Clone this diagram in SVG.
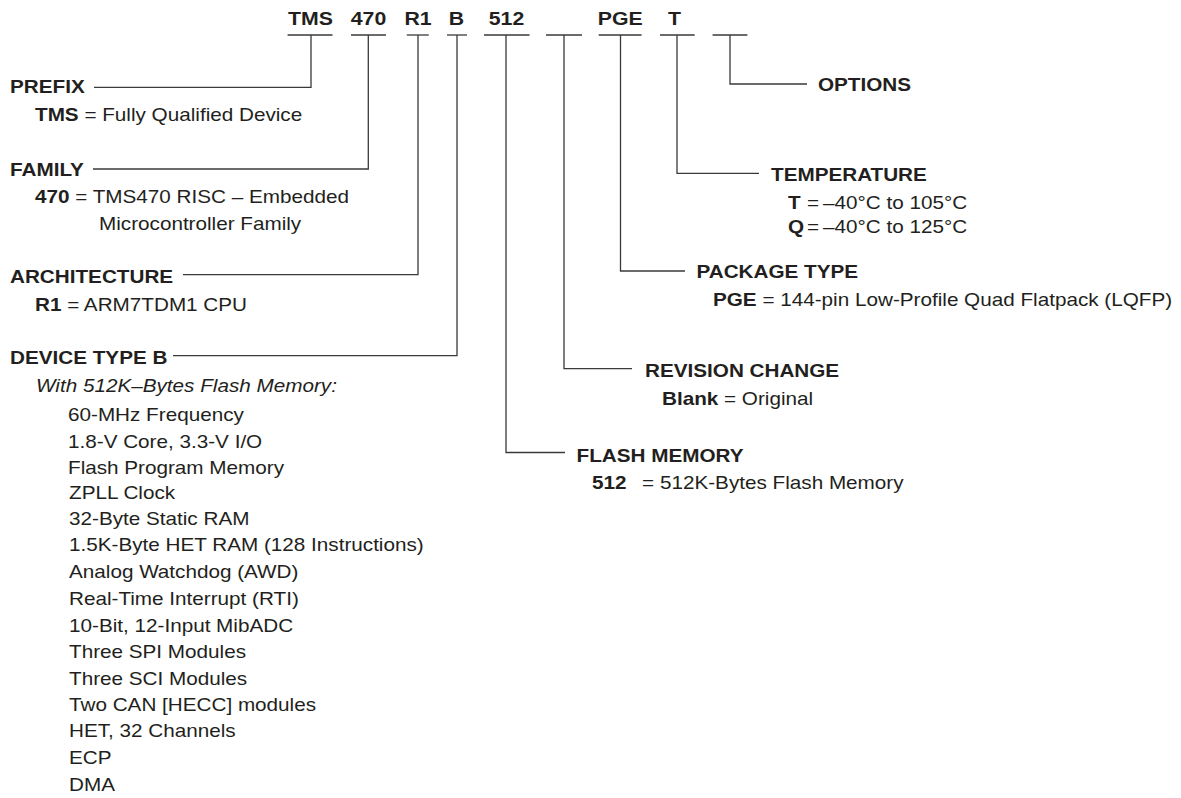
<svg xmlns="http://www.w3.org/2000/svg" width="1181" height="798" viewBox="0 0 1181 798">
<style>
text{font-family:"Liberation Sans",Arial,sans-serif;fill:#231f20;font-size:18px}
.b{font-weight:bold}
.i{font-style:italic}
.code{font-weight:bold;font-size:19px;text-anchor:middle}
#connectors path,#connectors line{stroke:#3a3a3a;stroke-width:1.3;fill:none}
</style>
<rect width="1181" height="798" fill="#fff"/>
<g id="connectors">
<line x1="287.6" y1="35" x2="332.5" y2="35"/>
<line x1="351" y1="35" x2="386" y2="35"/>
<line x1="406.8" y1="35" x2="428.8" y2="35"/>
<line x1="447" y1="35" x2="467" y2="35"/>
<line x1="484" y1="35" x2="529.5" y2="35"/>
<line x1="546" y1="35" x2="582" y2="35"/>
<line x1="598.7" y1="35" x2="641.6" y2="35"/>
<line x1="660" y1="35" x2="694.7" y2="35"/>
<line x1="712.6" y1="35" x2="747.4" y2="35"/>
<path d="M311 35V87.3H94"/>
<path d="M368.3 35V169H93"/>
<path d="M418 35V274.7H183"/>
<path d="M457 35V355.7H173"/>
<path d="M506 35V452.5H565"/>
<path d="M564 35V368.7H632"/>
<path d="M620.5 35V271H685"/>
<path d="M677 35V173.3H759"/>
<path d="M730 35V84H807"/>
</g>
<g id="code">
<text class="code" transform="translate(310.5,25) scale(1.12,1)">TMS</text>
<text class="code" transform="translate(368.5,25) scale(1.12,1)">470</text>
<text class="code" transform="translate(418,25) scale(1.12,1)">R1</text>
<text class="code" transform="translate(456.5,25) scale(1.12,1)">B</text>
<text class="code" transform="translate(506.5,25) scale(1.12,1)">512</text>
<text class="code" transform="translate(620.3,25) scale(1.12,1)">PGE</text>
<text class="code" transform="translate(674.5,25) scale(1.12,1)">T</text>
</g>
<g id="prefix">
<text class="b" transform="translate(10,92.7) scale(1.15,1)">PREFIX</text>
<text transform="translate(35,120.7) scale(1.15,1)"><tspan class="b">TMS</tspan> = Fully Qualified Device</text>
</g>
<g id="family">
<text class="b" transform="translate(10,175.7) scale(1.15,1)">FAMILY</text>
<text transform="translate(35,203.3) scale(1.15,1)"><tspan class="b">470</tspan> = TMS470 RISC – Embedded</text>
<text transform="translate(99,230) scale(1.15,1)">Microcontroller Family</text>
</g>
<g id="architecture">
<text class="b" transform="translate(10,283.3) scale(1.15,1)">ARCHITECTURE</text>
<text transform="translate(35,310.7) scale(1.15,1)"><tspan class="b">R1</tspan> = ARM7TDM1 CPU</text>
</g>
<g id="device-type">
<text class="b" transform="translate(10,364.3) scale(1.15,1)">DEVICE TYPE B</text>
<text class="i" transform="translate(36,391.7) scale(1.15,1)">With 512K–Bytes Flash Memory:</text>
<text transform="translate(68,421) scale(1.15,1)">60-MHz Frequency</text>
<text transform="translate(68,448) scale(1.15,1)">1.8-V Core, 3.3-V I/O</text>
<text transform="translate(68,474) scale(1.15,1)">Flash Program Memory</text>
<text transform="translate(69,499) scale(1.15,1)">ZPLL Clock</text>
<text transform="translate(69,525) scale(1.15,1)">32-Byte Static RAM</text>
<text transform="translate(69,551) scale(1.15,1)">1.5K-Byte HET RAM (128 Instructions)</text>
<text transform="translate(69,578) scale(1.15,1)">Analog Watchdog (AWD)</text>
<text transform="translate(69,605) scale(1.15,1)">Real-Time Interrupt (RTI)</text>
<text transform="translate(69,632) scale(1.15,1)">10-Bit, 12-Input MibADC</text>
<text transform="translate(69,658) scale(1.15,1)">Three SPI Modules</text>
<text transform="translate(69,685) scale(1.15,1)">Three SCI Modules</text>
<text transform="translate(69,711) scale(1.15,1)">Two CAN [HECC] modules</text>
<text transform="translate(69,737) scale(1.15,1)">HET, 32 Channels</text>
<text transform="translate(69,764) scale(1.15,1)">ECP</text>
<text transform="translate(69,791) scale(1.15,1)">DMA</text>
</g>
<g id="flash-memory">
<text class="b" transform="translate(576.5,462.3) scale(1.15,1)">FLASH MEMORY</text>
<text transform="translate(592,489.3) scale(1.15,1)"><tspan class="b">512</tspan><tspan x="43.5">=</tspan><tspan x="59.1">512K-Bytes Flash Memory</tspan></text>
</g>
<g id="revision-change">
<text class="b" transform="translate(645,376.7) scale(1.15,1)">REVISION CHANGE</text>
<text transform="translate(662,405) scale(1.15,1)"><tspan class="b">Blank</tspan> = Original</text>
</g>
<g id="package-type">
<text class="b" transform="translate(696.5,277.7) scale(1.15,1)">PACKAGE TYPE</text>
<text transform="translate(713,306) scale(1.15,1)"><tspan class="b">PGE</tspan> = 144-pin Low-Profile Quad Flatpack (LQFP)</text>
</g>
<g id="temperature">
<text class="b" transform="translate(771,180.7) scale(1.15,1)">TEMPERATURE</text>
<text transform="translate(788,209) scale(1.15,1)"><tspan class="b">T</tspan><tspan x="16.5">=</tspan><tspan x="30.4">–40°C to 105°C</tspan></text>
<text transform="translate(788,233) scale(1.15,1)"><tspan class="b">Q</tspan><tspan x="16.5">=</tspan><tspan x="30.4">–40°C to 125°C</tspan></text>
</g>
<g id="options">
<text class="b" transform="translate(818,91) scale(1.15,1)">OPTIONS</text>
</g>
</svg>
